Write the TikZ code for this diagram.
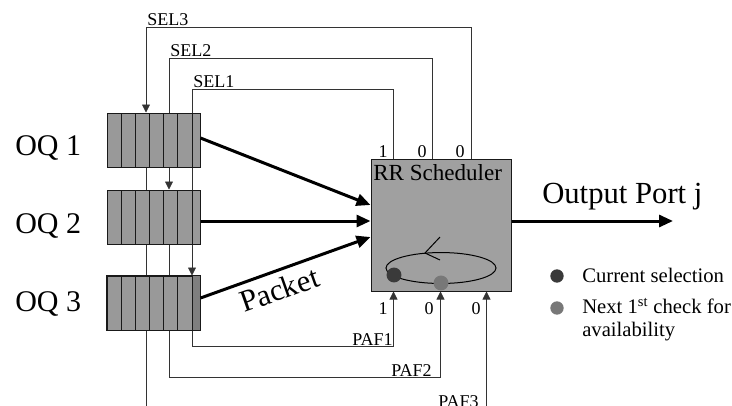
\documentclass[tikz,border=0pt]{standalone}
\usepackage{fontspec}
\setmainfont{Liberation Serif}
\usetikzlibrary{arrows.meta,calc,backgrounds}
\definecolor{qfill}{HTML}{999999}
\definecolor{qdark}{HTML}{7F7F7F}
\definecolor{sfill}{HTML}{A0A0A0}
\definecolor{dotA}{HTML}{3A3A3A}
\definecolor{dotB}{HTML}{787878}
\begin{document}
\begin{tikzpicture}[x=0.75pt,y=-0.75pt,
  queue/.style={draw=black!90,fill=qfill,line width=0.75pt,minimum width=69.75pt,minimum height=40.5pt,inner sep=0},
  schedbox/.style={draw=black!90,fill=sfill,line width=0.75pt,minimum width=105pt,minimum height=99pt,inner sep=0},
  bigarrow/.style={line width=2.25pt,-{Triangle[length=10.5pt,width=9pt]}},
  sig/.style={draw=black!80,line width=0.6pt},
  sigarrow/.style={sig,-{Triangle[length=6pt,width=6pt]}},
  small/.style={font=\fontsize{13.5}{15}\selectfont,inner sep=0},
  oqlabel/.style={font=\fontsize{22.5}{26}\selectfont,inner sep=0,anchor=base west},
  legend/.style={font=\fontsize{15.5}{18}\selectfont,inner sep=0,anchor=base west},
  divider/.style={draw=black!90,line width=0.75pt},
]
\clip (0,0) rectangle (732,405);

% queues
\node[queue] (q1) at (153.5,140) {};
\node[queue] (q2) at (153.5,217) {};
\node[queue] (q3) at (153.5,303) {};
\fill[qdark] (192,276) rectangle (200,330);
\draw[divider] (q3.north west) rectangle (q3.south east);
\foreach \t/\b in {113/167,190/244,276/330}
  \foreach \x in {121,135,149,163,177,192}
    \draw[divider] (\x,\t) -- (\x,\b);

% scheduler
\node[schedbox] (sched) at (441,225) {};
\path (sched.north west) ++(23,0) coordinate (t1);
\path (sched.north west) ++(62,0) coordinate (t2);
\path (sched.north west) ++(101,0) coordinate (t3);
\path (sched.south west) ++(23,0) coordinate (b1);
\path (sched.south west) ++(70,0) coordinate (b2);
\path (sched.south west) ++(116,0) coordinate (b3);

% signal lines
\begin{pgfonlayer}{background}
\draw[sigarrow] (t3) |- (146,27) -- (146,27 |- q1.north);
\draw[sigarrow] (t2) |- (169,58) -- (169,58 |- q2.north);
\draw[sigarrow] (t1) |- (192,89) -- (192,89 |- q3.north);
\draw[sigarrow] (146,0 |- q1.south) -- (146,410) -| (b3);
\draw[sigarrow] (169,0 |- q2.south) -- (169,377) -| (b2);
\draw[sigarrow] (192,0 |- q3.south) -- (192,346) -| (b1);
\end{pgfonlayer}

% labels of signals
\node[small,anchor=base west] (sel3) at (147,25.5) {SEL3};
\node[small,anchor=base west] (sel2) at (170,56.5) {SEL2};
\node[small,anchor=base west] (sel1) at (193,87.5) {SEL1};
\node[small,anchor=base east] (n1) at (388,157) {1};
\node[small,anchor=base east] (n2) at (427,157) {0};
\node[small,anchor=base east] (n3) at (465,157) {0};
\node[small,anchor=base east] (m1) at (388,314) {1};
\node[small,anchor=base east] (m2) at (434,314) {0};
\node[small,anchor=base east] (m3) at (481,314) {0};
\node[small,anchor=base east] (paf1) at (393,345) {PAF1};
\node[small,anchor=base east] (paf2) at (432,376) {PAF2};
\node[small,anchor=base east] (paf3) at (479,407) {PAF3};

% scheduler content
\node[font=\fontsize{17.3}{20}\selectfont,inner sep=0,anchor=base west] (rr) at (373,180) {RR Scheduler};
\draw[line width=0.75pt] (441,268) ellipse [x radius=41.25pt, y radius=11.6pt];
\draw[line width=0.75pt] (440,237) -- (425,253) -- (440,260);
\fill[dotA] (394,275) circle [radius=5.6pt];
\fill[dotB] (441,283) circle [radius=5.6pt];

% data arrows
\draw[bigarrow] (q1.east |- 0,138) -- (sched.west |- 0,205);
\draw[bigarrow] (q2.east |- 0,221) -- (sched.west |- 0,221);
\draw[bigarrow] (q3.east |- 0,298) -- (sched.west |- 0,237);
\coordinate (outend) at (673,221);
\draw[bigarrow] (sched.east |- 0,221) -- (outend);

% texts
\node[oqlabel] (oq1) at (15,155) {OQ 1};
\node[oqlabel] (oq2) at (15,233) {OQ 2};
\node[oqlabel] (oq3) at (15,311) {OQ 3};
\node[font=\fontsize{23}{26}\selectfont,inner sep=0,anchor=base west,rotate=19.5] (pkt) at (244,313) {Packet};
\node[font=\fontsize{23}{26}\selectfont,inner sep=0,anchor=base west] (out) at (542,203) {Output Port j};

% legend
\fill[dotA] (557,276) circle [radius=5pt];
\fill[dotB] (557,308) circle [radius=5pt];
\node[legend] (lg1) at (582,282) {Current selection};
\node[legend] (lg2) at (582,313) {Next 1\textsuperscript{st} check for};
\node[legend] (lg3) at (582,336) {availability};
\end{tikzpicture}
\end{document}
